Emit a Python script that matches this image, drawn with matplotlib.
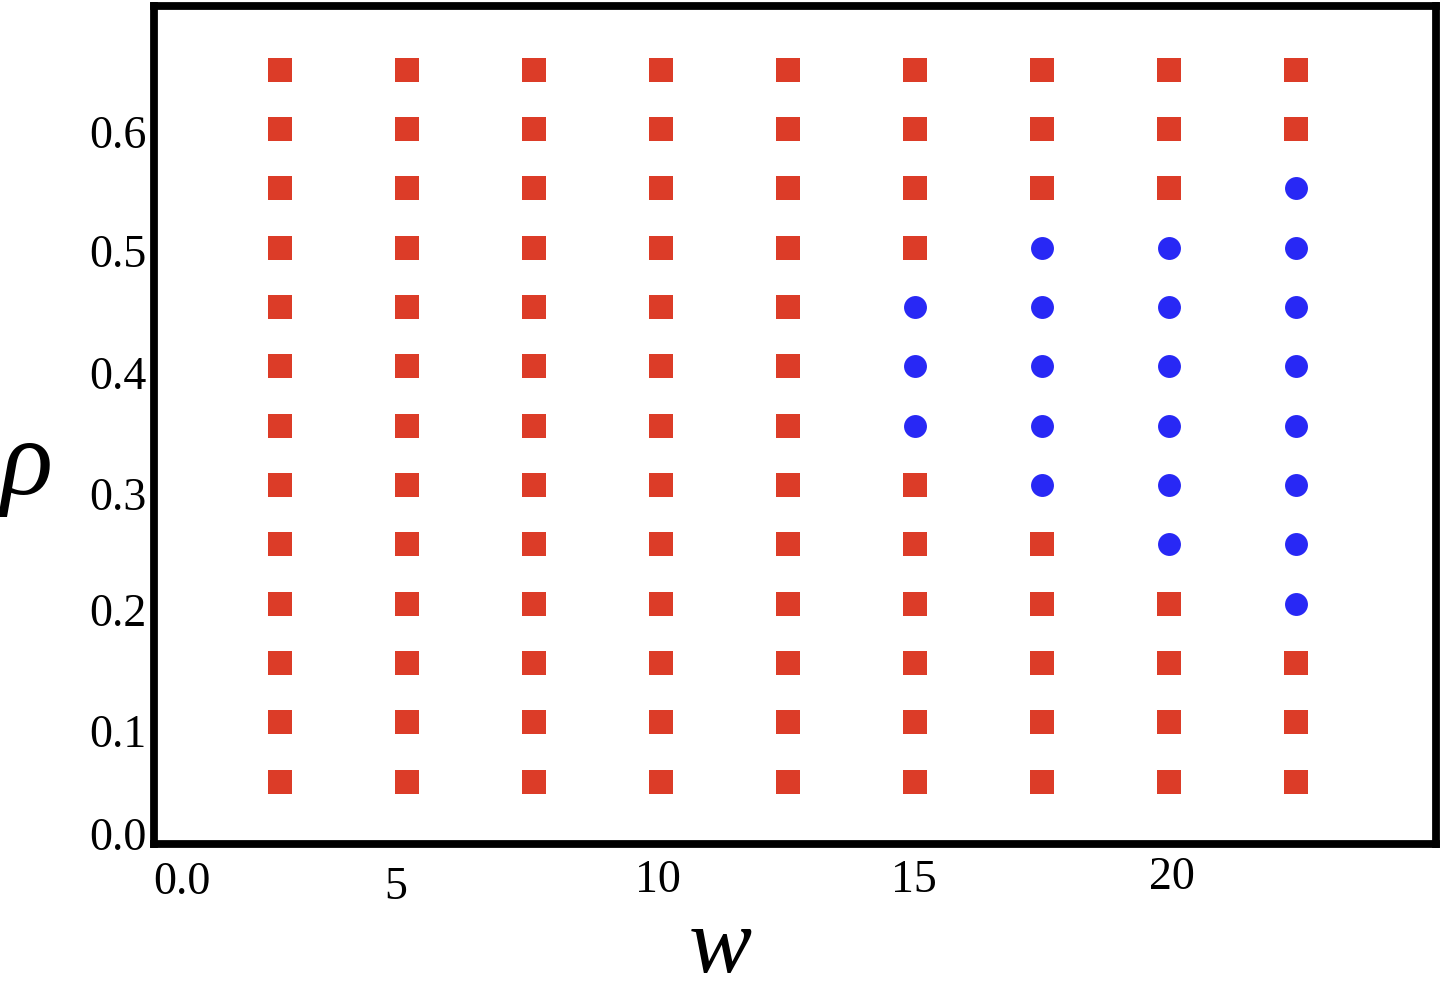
import numpy as np
import matplotlib
matplotlib.use("Agg")
import matplotlib.pyplot as plt
from matplotlib.transforms import ScaledTranslation

plt.rcParams["font.family"] = ["Liberation Serif", "DejaVu Serif"]

# 数据
w_values = [2.5, 5, 7.5, 10, 12.5, 15, 17.5, 20, 22.5]
rho_values = [0.05, 0.10, 0.15, 0.20, 0.25, 0.30, 0.35, 0.40, 0.45, 0.50, 0.55, 0.60, 0.65]
# 蓝色圆点 (每列的 rho)
blue_rho = {
    15: [0.35, 0.40, 0.45],
    17.5: [0.30, 0.35, 0.40, 0.45, 0.50],
    20: [0.25, 0.30, 0.35, 0.40, 0.45, 0.50],
    22.5: [0.20, 0.25, 0.30, 0.35, 0.40, 0.45, 0.50, 0.55],
}
x_ticks = [0, 5, 10, 15, 20]
x_ticklabels = ["0.0", "5", "10", "15", "20"]
y_ticks = [0.0, 0.1, 0.2, 0.3, 0.4, 0.5, 0.6]
y_ticklabels = ["0.0", "0.1", "0.2", "0.3", "0.4", "0.5", "0.6"]

red_x, red_y, blue_x, blue_y = [], [], [], []
for w in w_values:
    for r in rho_values:
        if r in blue_rho.get(w, []):
            blue_x.append(w)
            blue_y.append(r)
        else:
            red_x.append(w)
            red_y.append(r)

fig = plt.figure(figsize=(14.42, 9.92), dpi=100)
ax = fig.add_axes([153.5 / 1442, 148 / 992, (1436 - 153.5) / 1442, (844 - 6) / 992])

ax.plot(red_x, red_y, linestyle="none", marker="s", ms=17, color="#dc3c28", mew=0)
ax.plot(blue_x, blue_y, linestyle="none", marker="o", ms=16.5, color="#2828f5", mew=0)

ax.set_xlim(0, 25.25)
ax.set_ylim(-0.0025, 0.7038)

for s in ax.spines.values():
    s.set_linewidth(5.6)
    s.set_color("black")

ax.set_xticks(x_ticks, labels=x_ticklabels)
ax.set_yticks(y_ticks, labels=y_ticklabels)
ax.tick_params(axis="both", length=0, labelsize=33)
ax.tick_params(axis="x", pad=11)
ax.tick_params(axis="y", pad=5)

# 微调标签位置
x_off = [0, -12, -3, -2, 3]
x_dy = [-2, -7, 0, 0, 3]
for lab, dx, dy in zip(ax.get_xticklabels(), x_off, x_dy):
    lab.set_transform(lab.get_transform() + ScaledTranslation(dx / 100, dy / 100, fig.dpi_scale_trans))
ax.get_xticklabels()[0].set_ha("left")
y_dy = [7, -8, -6, -9, -6, -3, -3]
for lab, dy in zip(ax.get_yticklabels(), y_dy):
    lab.set_transform(lab.get_transform() + ScaledTranslation(0, dy / 100, fig.dpi_scale_trans))

fig.text(720 / 1442, 20 / 992, "w", fontsize=68, fontstyle="italic", ha="center", va="baseline")
fig.text(27 / 1442, (992 - 494) / 992, "ρ", fontsize=78, fontstyle="italic", ha="center", va="baseline")

fig.savefig("out.png", dpi=100)
